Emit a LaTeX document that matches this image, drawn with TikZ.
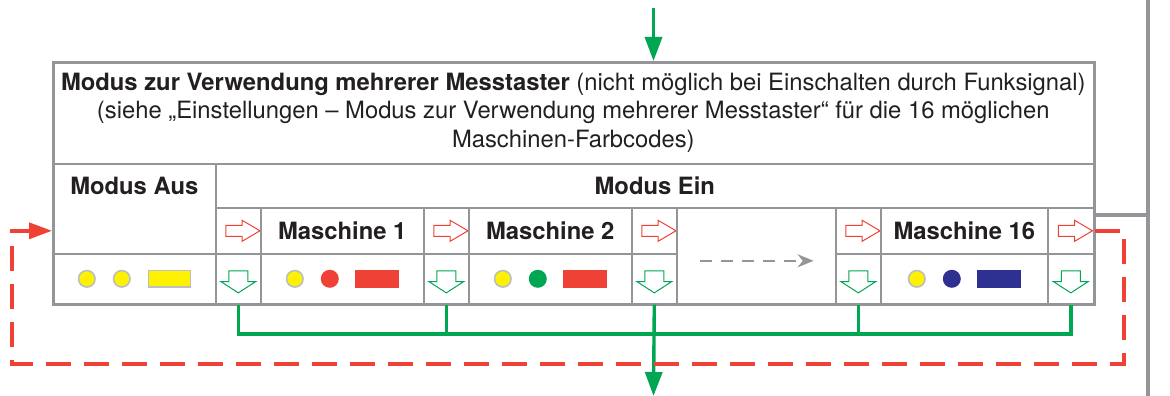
\documentclass[tikz,border=0pt]{standalone}
\usepackage{fontspec}
\setmainfont{TeX Gyre Heros}
\usetikzlibrary{arrows.meta,shapes.arrows,positioning}

\definecolor{framegray}{HTML}{939598}
\definecolor{ringgray}{HTML}{BCBEC0}
\definecolor{inkdark}{HTML}{231F20}
\definecolor{ledyellow}{HTML}{FFF200}
\definecolor{ledred}{HTML}{EF4136}
\definecolor{ledgreen}{HTML}{00A651}
\definecolor{ledblue}{HTML}{2E3192}

\begin{document}
\begin{tikzpicture}[x=1pt,y=-1pt,font=\fontsize{23.8}{28.6}\selectfont,text=inkdark]
\tikzstyle{cell}=[draw=framegray,line width=1.6pt,inner sep=0pt,anchor=north west]
\tikzstyle{push right}=[single arrow,draw=ledred,line width=1pt,inner xsep=0pt,inner ysep=5pt,
  minimum height=34pt,single arrow head extend=5pt,single arrow tip angle=61]
\tikzstyle{push down}=[single arrow,draw=ledgreen,line width=1pt,inner xsep=0pt,inner ysep=9pt,rotate=-90,
  minimum height=22pt,single arrow head extend=8pt,single arrow tip angle=114]
\tikzstyle{led}=[circle,inner sep=0pt,minimum size=18pt]
\tikzstyle{led off}=[led,fill=ledyellow,draw=ringgray,line width=1.6pt,minimum size=16.5pt]
\tikzstyle{bar}=[inner sep=0pt,minimum width=44pt,minimum height=18pt]
\tikzstyle{bus}=[ledgreen,line width=3.4pt]
\tikzstyle{recycle}=[ledred,line width=3.4pt,dash pattern=on 25pt off 13pt]
\tikzstyle{rail}=[framegray,line width=3.4pt]

\useasboundingbox (0,0) rectangle (1170,396);

% header and mode rows
\node[cell,align=center,minimum width=1041pt,minimum height=102pt] (head) at (52,61)
  {\textbf{Modus zur Verwendung mehrerer Messtaster} (nicht möglich bei Einschalten durch Funksignal)\\
   (siehe „Einstellungen – Modus zur Verwendung mehrerer Messtaster“ für die 16 möglichen\\
   Maschinen-Farbcodes)};
\node[cell,minimum width=878pt,minimum height=44pt] (modein) at (215,163) {\textbf{Modus Ein}};
\node[cell,minimum width=163pt,minimum height=90pt] (aus) at (52,163) {};
\node (auslabel) at (aus.north |- modein) {\textbf{Modus Aus}};

% off state
\node[cell,minimum width=163pt,minimum height=50pt] (ausleds) at (52,253) {};
\node[led off] (aus-a) at ([xshift=-47.5pt]ausleds.center) {};
\node[led off] (aus-b) at ([xshift=-12.5pt]ausleds.center) {};
\node[bar,fill=ledyellow,draw=ringgray,line width=1.6pt,minimum width=42pt,minimum height=16.5pt]
  (aus-c) at ([xshift=35pt]ausleds.center) {};

% step cells
\foreach \x/\w/\n in {215/45/1,423/45/2,631/45/3,835/45/4,1047/46/5}{
  \node[cell,minimum width=\w pt,minimum height=46pt] (a\n) at (\x,207) {};
  \node[push right] (a\n-arrow) at (a\n) {};
  \node[cell,minimum width=\w pt,minimum height=50pt] (d\n) at (\x,253) {};
  \node[push down] (d\n-arrow) at (d\n) {};
}

% machines
\foreach \x/\w/\n/\dot/\bar in {260/163/1/ledred/ledred,468/163/2/ledgreen/ledred,880/167/16/ledblue/ledblue}{
  \node[cell,minimum width=\w pt,minimum height=46pt] (m\n) at (\x,207) {\textbf{Maschine \n}};
  \node[cell,minimum width=\w pt,minimum height=50pt] (s\n) at (\x,253) {};
  \node[led off] (s\n-a) at ([xshift=-47.5pt]s\n.center) {};
  \node[led,fill=\dot] (s\n-b) at ([xshift=-12.5pt]s\n.center) {};
  \node[bar,fill=\bar] (s\n-c) at ([xshift=34.5pt]s\n.center) {};
}

\node[cell,minimum width=159pt,minimum height=96pt] (gap) at (676,207) {};
\draw[framegray,line width=2.4pt,dash pattern=on 12pt off 9pt,-{Stealth[length=16pt,width=13pt]}]
  ([shift={(24,5)}]gap.west) -- ([shift={(-23,5)}]gap.east);

\node[cell,line width=2.6pt,minimum width=1041pt,minimum height=242pt] (tab) at (52,61) {};

% connectors
\coordinate (in) at (653.5,8);
\coordinate (busline) at (653.5,334);
\coordinate (out) at (653.5,396);
\coordinate (back1) at (1124,364);
\coordinate (back2) at (12,364);
\coordinate (railtop) at (1148,0);
\coordinate (railbot) at (1148,396);

\draw[bus,-{Triangle[length=24pt,width=17pt]}] (in) -- (in |- head.north);
\draw[bus] (d1.south) |- (d5.south |- busline) -- (d5.south);
\foreach \n in {2,4} \draw[bus] (d\n.south) -- (d\n.south |- busline);
\draw[bus,-{Triangle[length=24pt,width=17pt]}] (d3.south) -- (out);

\draw[recycle,-{Triangle[length=23pt,width=16pt]}] (a5.east) -| (back1) -- (back2) |- (aus.west |- a5.east);

\draw[rail] (railtop) -- (railbot);
\draw[rail] (tab.east |- 0,215) -- (railtop |- 0,215);

\end{tikzpicture}
\end{document}
